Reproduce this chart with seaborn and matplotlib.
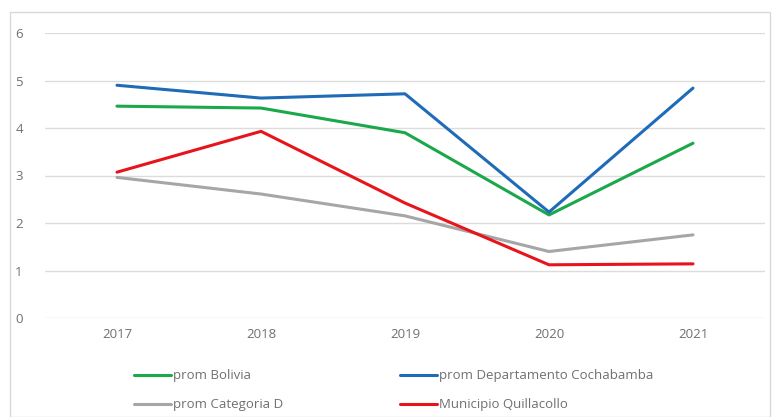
import matplotlib
matplotlib.use("Agg")
import matplotlib.pyplot as plt
import seaborn as sns
import pandas as pd
from matplotlib.patches import Rectangle

years = ["2017", "2018", "2019", "2020", "2021"]
prom_bolivia = [4.46, 4.42, 3.90, 2.17, 3.68]
prom_cochabamba = [4.90, 4.63, 4.72, 2.23, 4.84]
prom_categoria_d = [2.96, 2.61, 2.15, 1.40, 1.75]
municipio_quillacollo = [3.07, 3.93, 2.42, 1.12, 1.14]

series_names = ["prom Bolivia", "prom Departamento Cochabamba",
                "prom Categoria D", "Municipio Quillacollo"]
series_vals = [prom_bolivia, prom_cochabamba, prom_categoria_d, municipio_quillacollo]
colors = ["#1aa84a", "#1f6bb8", "#a6a6a6", "#e8141c"]

rows = []
for name, vals in zip(series_names, series_vals):
    for y, v in zip(years, vals):
        rows.append({"year": y, "value": v, "serie": name})
df = pd.DataFrame(rows)

sns.set_theme(style="white")
plt.rcParams['font.family'] = ['Open Sans', 'DejaVu Sans']

W, H = 772, 417
fig = plt.figure(figsize=(W / 100, H / 100), dpi=100)
fig.patches.append(Rectangle((10 / W, 0), (W - 12) / W, (H - 12) / H,
                             transform=fig.transFigure, fill=False,
                             edgecolor="#d9d9d9", linewidth=1.0))

ax = fig.add_axes([45 / W, 99 / H, 720 / W, 285 / H])
sns.lineplot(data=df, x="year", y="value", hue="serie", hue_order=series_names,
             palette=colors, linewidth=2.2, ax=ax, legend=False, sort=False)

ax.set_xlim(-0.5, 4.5)
ax.set_ylim(0, 6)
ax.set_yticks(range(0, 7))
ax.yaxis.grid(True, color="#dcdcdc", linewidth=1.0)
ax.set_axisbelow(True)
for s in ax.spines.values():
    s.set_visible(False)
ax.tick_params(axis="both", length=0, labelsize=9.5, colors="#707070")
ax.tick_params(axis="y", pad=16)
ax.tick_params(axis="x", pad=7)
ax.set_xlabel("")
ax.set_ylabel("")

order = [0, 2, 1, 3]
handles = [plt.Line2D([], [], color=colors[i], linewidth=2.2) for i in order]
labels = [series_names[i] for i in order]
fig.legend(handles, labels, loc="center left", ncol=2,
           bbox_to_anchor=(122 / W, 0.064), frameon=False, fontsize=9.5,
           handlelength=2.8, handletextpad=0.15, columnspacing=8.9,
           labelspacing=1.2, labelcolor="#707070")

fig.savefig("out.png", dpi=100)
